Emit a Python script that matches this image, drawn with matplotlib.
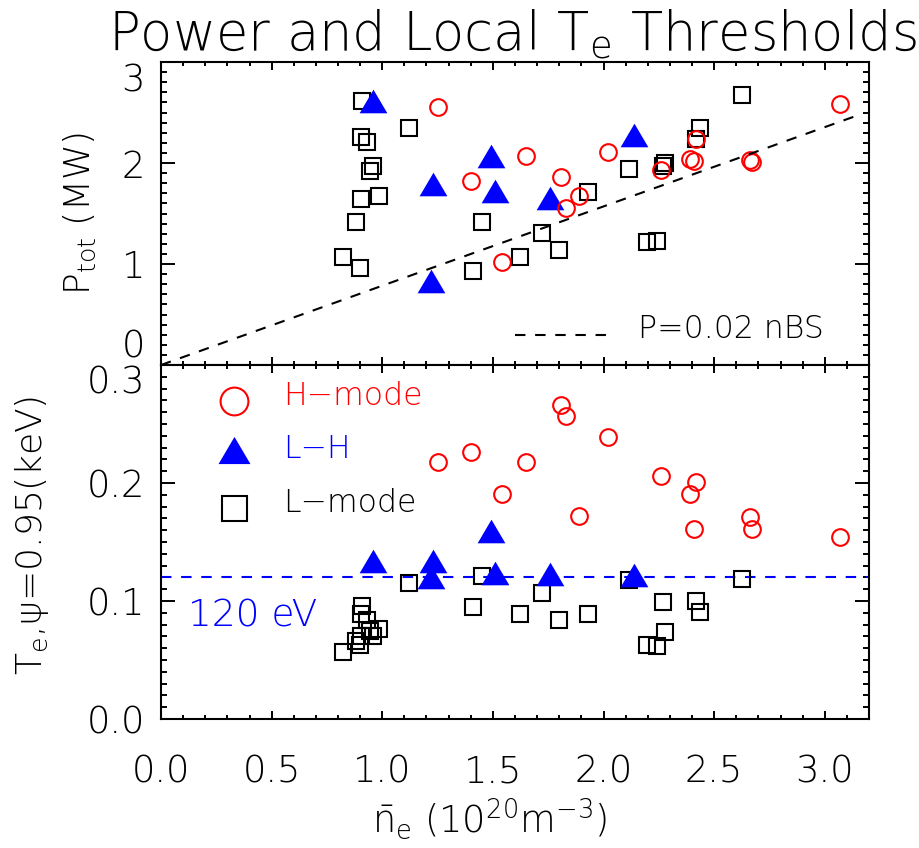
import numpy as np
import matplotlib
matplotlib.use("Agg")
import matplotlib.pyplot as plt
from matplotlib.ticker import MultipleLocator, FixedLocator

plt.rcParams['font.family'] = ['DejaVu Sans']
plt.rcParams['font.weight'] = 200
plt.rcParams['mathtext.fontset'] = 'custom'
plt.rcParams['mathtext.rm'] = 'DejaVu Sans:weight=200'
plt.rcParams['mathtext.it'] = 'DejaVu Sans:weight=200'
plt.rcParams['mathtext.default'] = 'regular'
plt.rcParams['lines.scale_dashes'] = False

# ---------------- data ----------------
hm_n = [1.25, 1.40, 1.54, 1.65, 1.81, 1.83, 1.89, 2.02, 2.26, 2.39, 2.41, 2.42, 2.66, 2.67, 3.07]
hm_P = [2.55, 1.82, 1.02, 2.07, 1.86, 1.55, 1.67, 2.11, 1.93, 2.04, 2.02, 2.24, 2.03, 2.01, 2.58]
hm_Te = [0.218, 0.226, 0.191, 0.218, 0.266, 0.257, 0.172, 0.239, 0.206, 0.191, 0.161, 0.201, 0.171, 0.161, 0.154]

lh_n = [0.96, 1.22, 1.23, 1.49, 1.51, 1.76, 2.14]
lh_P = [2.61, 0.83, 1.79, 2.07, 1.72, 1.65, 2.28]
lh_Te = [0.134, 0.120, 0.134, 0.159, 0.124, 0.123, 0.122]

lm_n = [0.824, 0.883, 0.90, 0.904, 0.904, 0.91, 0.93, 0.945, 0.957, 0.984,
        1.12, 1.408, 1.452, 1.622, 1.724, 1.798, 1.928, 2.116, 2.195, 2.24,
        2.27, 2.28, 2.42, 2.436, 2.625]
lm_P = [1.07, 1.42, 0.96, 2.26, 1.64, 2.61, 2.21, 1.92, 1.97, 1.67,
        2.35, 0.93, 1.42, 1.07, 1.31, 1.14, 1.71, 1.94, 1.22, 1.23,
        1.97, 2.00, 2.24, 2.35, 2.67]
lm_Te = [0.057, 0.066, 0.063, 0.070, 0.089, 0.096, 0.084, 0.075, 0.070, 0.076,
         0.115, 0.095, 0.121, 0.089, 0.107, 0.084, 0.089, 0.118, 0.063, 0.062,
         0.099, 0.074, 0.100, 0.091, 0.119]

fit_n = [0.0, 3.15]
fit_slope = 0.785
te_threshold = 0.12

x_ticks = [0.0, 0.5, 1.0, 1.5, 2.0, 2.5, 3.0]
x_ticklabels = ['0.0', '0.5', '1.0', '1.5', '2.0', '2.5', '3.0']
p_ticks = [0, 1, 2, 3]
p_ticklabels = ['0', '1', '2', '3']
te_ticks = [0.0, 0.1, 0.2, 0.3]
te_ticklabels = ['0.0', '0.1', '0.2', '0.3']

# ---------------- styles ----------------
W, H = 919, 848
fig = plt.figure(figsize=(W / 100, H / 100), dpi=100)

def fr(x0, y0, x1, y1):
    return [x0 / W, 1 - y1 / H, (x1 - x0) / W, (y1 - y0) / H]

ax1 = fig.add_axes(fr(161, 62, 869, 365))
ax2 = fig.add_axes(fr(161, 365, 869, 719))

tri = [(-1, -0.85), (1, -0.85), (0, 0.85)]
circ_kw = dict(linestyle='none', marker='o', ms=12, mfc='none', mec='red', mew=1.5)
tri_kw = dict(linestyle='none', marker=tri, ms=20, mfc='blue', mec='none')
sq_kw = dict(linestyle='none', marker='s', ms=11.5, mfc='none', mec='black', mew=1.5)

TICKFS = 26.5
for ax in (ax1, ax2):
    ax.set_xlim(0, 3.2)
    ax.xaxis.set_major_locator(FixedLocator(x_ticks))
    ax.xaxis.set_minor_locator(MultipleLocator(0.1))
    for s in ax.spines.values():
        s.set_linewidth(1.5)
    ax.tick_params(axis='both', which='both', direction='in', top=True, right=True, width=1.4)
    ax.tick_params(axis='x', which='major', length=6)
    ax.tick_params(axis='x', which='minor', length=3)
    ax.tick_params(axis='y', which='major', length=10, pad=11.5)
    ax.tick_params(axis='y', which='minor', length=4.5)
    ax.tick_params(labelsize=TICKFS)

# top panel
ax1.plot(lm_n, lm_P, **sq_kw)
ax1.plot(lh_n, lh_P, **tri_kw)
ax1.plot(hm_n, hm_P, **circ_kw)
fit_n_arr = np.array(fit_n)
ax1.plot(fit_n_arr, fit_slope * fit_n_arr, color='black', lw=1.5, linestyle=(0, (7.5, 7)))
ax1.set_ylim(0, 3)
ax1.yaxis.set_major_locator(FixedLocator(p_ticks))
ax1.set_yticklabels(p_ticklabels)
ax1.yaxis.set_minor_locator(MultipleLocator(0.1))
ax1.tick_params(axis='x', labelbottom=False)
ax1.plot([0.5, 0.638], [0.099, 0.099], transform=ax1.transAxes, color='black',
         lw=1.5, linestyle=(0, (7.5, 7)))
ax1.text(0.674, 0.089, 'P=0.02 nBS', transform=ax1.transAxes, fontsize=22.7,
         ha='left', va='baseline')

# bottom panel
ax2.axhline(te_threshold, color='blue', lw=1.5, linestyle=(0, (7.5, 7)))
ax2.plot(lm_n, lm_Te, **sq_kw)
ax2.plot(lh_n, lh_Te, **tri_kw)
ax2.plot(hm_n, hm_Te, **circ_kw)
ax2.set_ylim(0, 0.3)
ax2.yaxis.set_major_locator(FixedLocator(te_ticks))
ax2.set_yticklabels(te_ticklabels)
ax2.yaxis.set_minor_locator(MultipleLocator(0.01))
ax2.set_xticklabels(x_ticklabels)
ax2.tick_params(axis='x', which='major', pad=24.5)
ax2.text(0.038, 0.26, '120 eV', transform=ax2.transAxes, fontsize=27, color='blue',
         ha='left', va='baseline')

# legend
ax2.plot([0.1031], [0.898], transform=ax2.transAxes, linestyle='none', marker='o', ms=20,
         mfc='none', mec='red', mew=1.5, clip_on=False)
ax2.plot([0.1031], [0.760], transform=ax2.transAxes, linestyle='none', marker=tri, ms=23,
         mfc='blue', mec='none', clip_on=False)
ax2.plot([0.1031], [0.596], transform=ax2.transAxes, linestyle='none', marker='s', ms=18,
         mfc='none', mec='black', mew=1.5, clip_on=False)
ax2.text(0.1723, 0.887, 'H\u2212mode', transform=ax2.transAxes, fontsize=22.7, color='red', va='baseline')
ax2.text(0.1723, 0.737, 'L\u2212H', transform=ax2.transAxes, fontsize=22.7, color='blue', va='baseline')
ax2.text(0.1723, 0.585, 'L\u2212mode', transform=ax2.transAxes, fontsize=22.7, color='black', va='baseline')

# end tick label alignment (IDL style)
for t, v in zip(ax1.yaxis.get_major_ticks(), p_ticks):
    if v == 0:
        t.label1.set_va('bottom')
    elif v == 3:
        t.label1.set_va('top')
for t, v in zip(ax2.yaxis.get_major_ticks(), te_ticks):
    if v == 0.3:
        t.label1.set_va('top')

# labels
fig.text(80 / W, 1 - 213 / H, 'P$_{tot}$ (MW)', rotation=90, fontsize=26,
         ha='center', va='center')
fig.text(32 / W, 1 - 535 / H, r'T$_{e}$,$\psi$=0.95(keV)', rotation=90, fontsize=26,
         ha='center', va='center')
fig.text(490 / W, 1 - 832 / H, r'$\bar{n}_{e}$ (10$^{20}$m$^{-3}$)', fontsize=26.5,
         ha='center', va='baseline')
fig.text(512 / W, 1 - 50 / H, 'Power and Local T$_{e}$ Thresholds', fontsize=38,
         ha='center', va='baseline')

fig.savefig('out.png', dpi=100)
